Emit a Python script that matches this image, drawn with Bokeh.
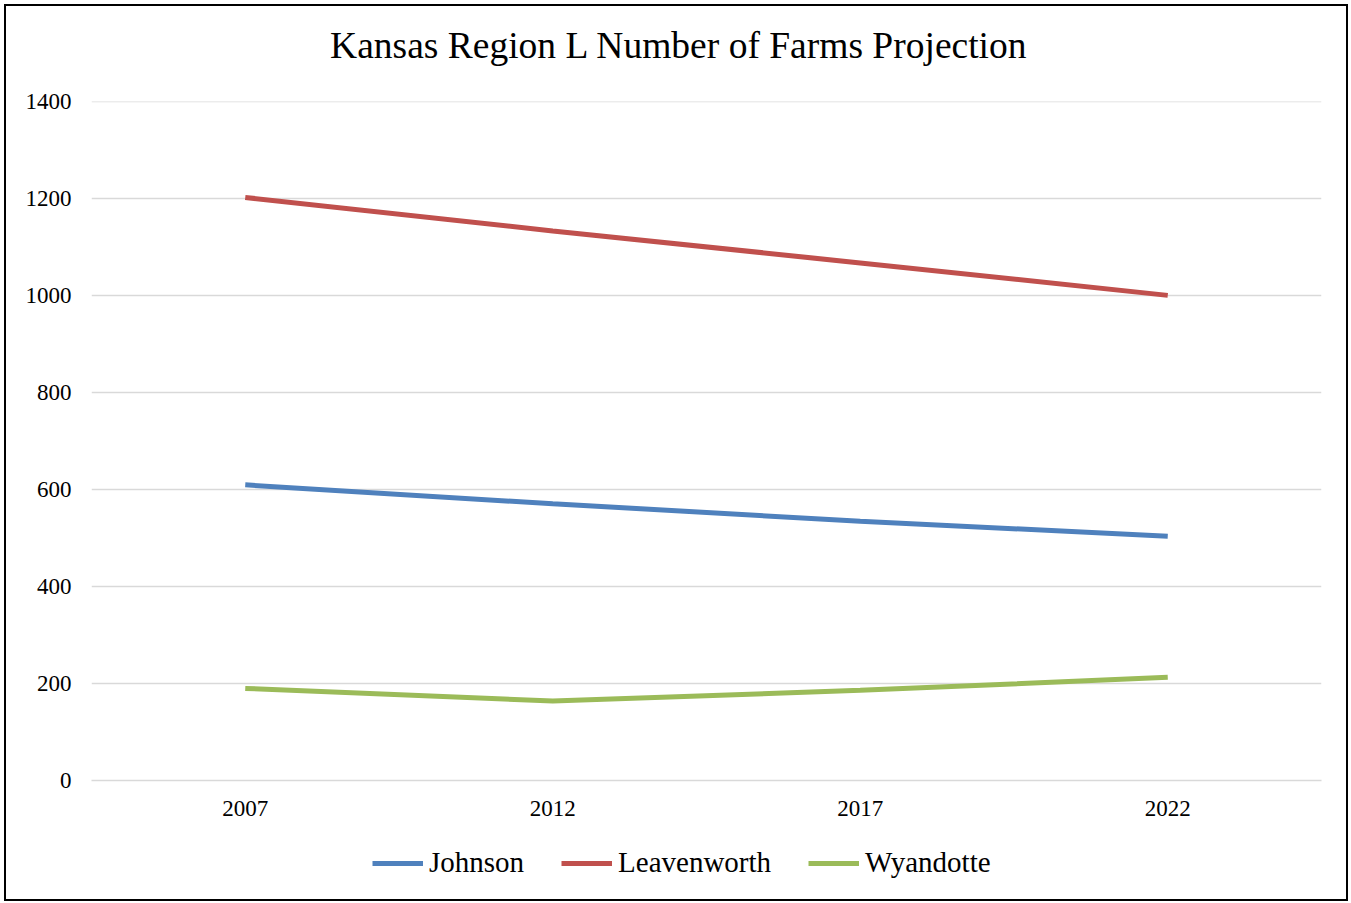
from bokeh.plotting import figure
from bokeh.layouts import column
from bokeh.models import Range1d, FactorRange, Legend, LegendItem, Label, FixedTicker
from bokeh.embed import file_html
from bokeh.resources import INLINE

years = ["2007", "2012", "2017", "2022"]
johnson = [610, 571, 535, 504]
leavenworth = [1203, 1134, 1068, 1001]
wyandotte = [190, 164, 186, 213]
y_ticks = [0, 200, 400, 600, 800, 1000, 1200, 1400]
series_names = ["Johnson", "Leavenworth", "Wyandotte"]
series_values = [johnson, leavenworth, wyandotte]
series_colors = ["#4F81BD", "#C0504D", "#9BBB59"]
title_text = "Kansas Region L Number of Farms Projection"

FONT = "Liberation Serif"

x_range = FactorRange(*years, range_padding=0)
y_range = Range1d(0, 1401)

# ---- title strip
t = figure(
    width=1340, height=80,
    x_range=Range1d(0, 1), y_range=Range1d(0, 1),
    x_axis_type=None, y_axis_type=None,
    output_backend="svg", toolbar_location=None,
    min_border_left=0, min_border_right=0, min_border_top=0, min_border_bottom=0,
)
t.outline_line_color = None
t.xgrid.grid_line_color = None
t.ygrid.grid_line_color = None
t.border_fill_color = "white"
t.add_layout(Label(x=587.5, y=41, x_units="screen", y_units="screen",
                   text=title_text, text_align="center", text_baseline="alphabetic",
                   text_font=FONT, text_font_size="37.5px", text_color="black"))

# ---- main chart
p = figure(
    width=1340, height=744,
    x_range=x_range, y_range=y_range,
    output_backend="svg", toolbar_location=None,
    min_border_left=85, min_border_right=25, min_border_top=15, min_border_bottom=50,
)
p.outline_line_color = None
p.background_fill_color = "white"
p.border_fill_color = "white"

for vals, col in zip(series_values, series_colors):
    p.line(years, vals, line_color=col, line_width=5)

p.xgrid.grid_line_color = None
p.ygrid.grid_line_color = "#D9D9D9"
p.ygrid.grid_line_width = 1.5
p.yaxis.ticker = FixedTicker(ticks=y_ticks)

p.yaxis.axis_line_color = None
p.yaxis.major_tick_line_color = None
p.yaxis.minor_tick_line_color = None
p.yaxis.major_label_standoff = 14
p.xaxis.axis_line_color = "#D9D9D9"
p.xaxis.axis_line_width = 1.5
p.xaxis.major_tick_line_color = None
p.xaxis.minor_tick_line_color = None
p.xaxis.major_label_standoff = 14
for ax in (p.xaxis, p.yaxis):
    ax.major_label_text_font = FONT
    ax.major_label_text_font_size = "23px"
    ax.major_label_text_color = "black"

# ---- legend strip
q = figure(
    width=1340, height=69,
    x_range=x_range, y_range=y_range,
    x_axis_type=None, y_axis_type=None,
    output_backend="svg", toolbar_location=None,
    min_border_left=0, min_border_right=0, min_border_top=0, min_border_bottom=0,
)
q.outline_line_color = None
q.xgrid.grid_line_color = None
q.ygrid.grid_line_color = None
q.border_fill_color = "white"

items = []
for name, vals, col in zip(series_names, series_values, series_colors):
    r = q.line(x=years[:1], y=vals[:1], line_color=col, line_width=5)
    items.append(LegendItem(label=name, renderers=[r]))

legend = Legend(items=items, orientation="horizontal", location=(281, 20),
    label_text_font=FONT, label_text_font_size="29px", label_text_color="black",
    glyph_width=51, glyph_height=20, label_standoff=6, spacing=37,
    border_line_color=None, background_fill_alpha=0, padding=0, margin=0)
q.add_layout(legend, "center")

layout = column(t, p, q, spacing=0)
layout.styles = {"border": "2px solid black", "margin": "4px"}

open("out.html", "w").write(file_html(layout, INLINE))
